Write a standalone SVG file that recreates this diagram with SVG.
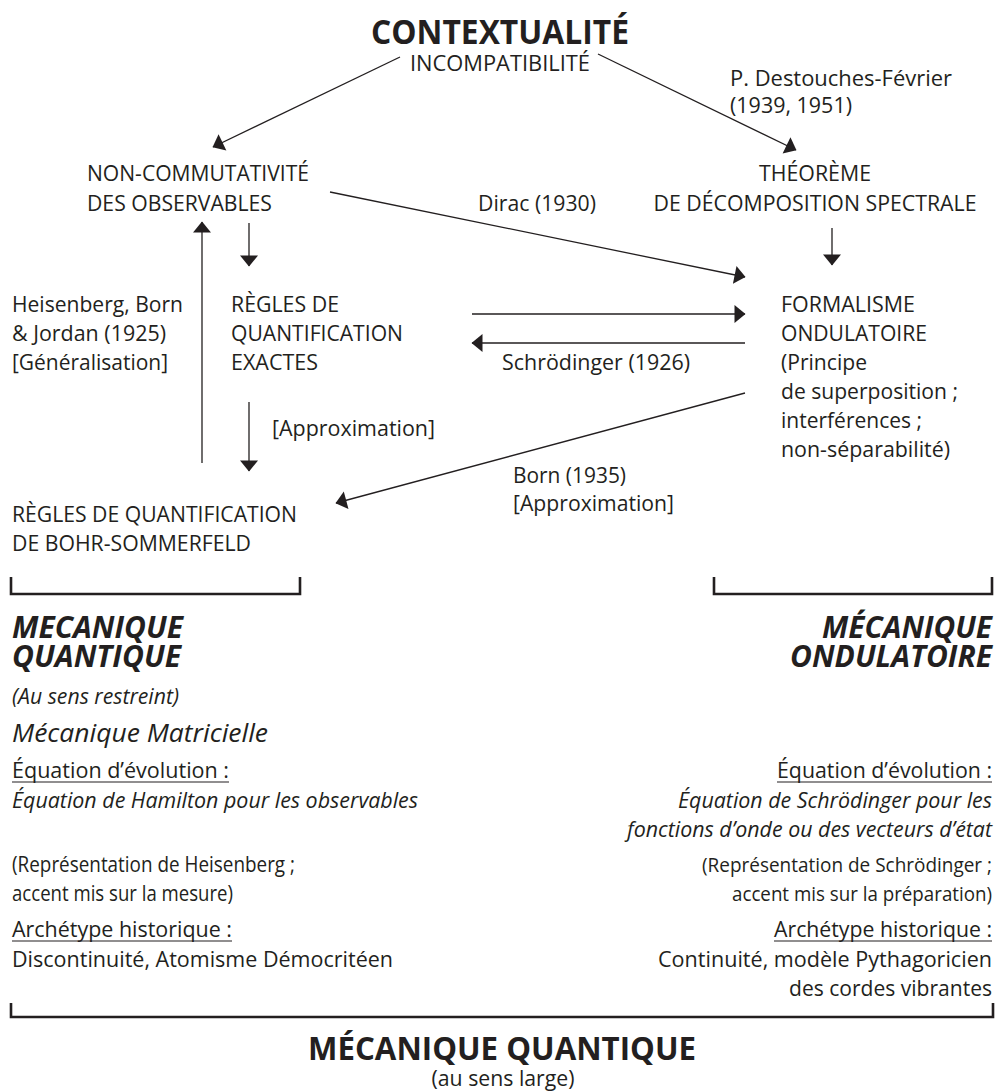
<svg xmlns="http://www.w3.org/2000/svg" width="997" height="1092" viewBox="0 0 997 1092">
<defs>
<marker id="ah" markerUnits="userSpaceOnUse" markerWidth="14" markerHeight="20" refX="10.5" refY="9" orient="auto" overflow="visible">
<path d="M0,0 L11,9 L0,18 z" fill="#231f20"/>
</marker>
<style>
text{font-family:"Open Sans","Liberation Sans",sans-serif;fill:#231f20;font-size:21.5px}
.title{font-weight:700;font-size:34px}
.big{font-weight:700;font-size:32px}
.bi{font-weight:700;font-style:italic;font-size:30px}
.i{font-style:italic}
.sm{font-style:italic;font-size:21px}
.mm{font-style:italic;font-size:26px}
.n{font-size:20.5px}
.e{text-anchor:end}
.m{text-anchor:middle}
.c{stroke:#231f20;stroke-width:1.3;fill:none;marker-end:url(#ah)}
.br{stroke:#231f20;stroke-width:2.6;fill:none}
.u{stroke:#231f20;stroke-width:1.2}
</style>
</defs>
<rect width="997" height="1092" fill="#ffffff"/>

<g id="connectors">
<line class="c" x1="400" y1="57" x2="213" y2="147"/>
<line class="c" x1="598" y1="54" x2="796" y2="150"/>
<line class="c" x1="330" y1="192" x2="745" y2="277"/>
<line class="c" x1="249" y1="223" x2="249" y2="266"/>
<line class="c" x1="832" y1="228" x2="832" y2="265"/>
<line class="c" x1="472" y1="314" x2="745" y2="314"/>
<line class="c" x1="745" y1="343" x2="472" y2="343"/>
<line class="c" x1="249" y1="402" x2="249" y2="471"/>
<line class="c" x1="202" y1="463" x2="202" y2="222"/>
<line class="c" x1="745" y1="393" x2="336" y2="503"/>
</g>

<g id="contextualite">
<text class="title m" x="500" y="44" textLength="258" lengthAdjust="spacingAndGlyphs">CONTEXTUALITÉ</text>
<text class="m" x="500" y="71" textLength="180" lengthAdjust="spacingAndGlyphs">INCOMPATIBILITÉ</text>
</g>
<g id="label-destouches">
<text x="730" y="86" textLength="222" lengthAdjust="spacingAndGlyphs">P. Destouches-Février</text>
<text x="730" y="113" textLength="122" lengthAdjust="spacingAndGlyphs">(1939, 1951)</text>
</g>
<g id="non-commutativite">
<text x="87" y="181" textLength="222" lengthAdjust="spacingAndGlyphs">NON-COMMUTATIVITÉ</text>
<text x="87" y="211" textLength="185" lengthAdjust="spacingAndGlyphs">DES OBSERVABLES</text>
</g>
<g id="theoreme">
<text class="m" x="815" y="181" textLength="112" lengthAdjust="spacingAndGlyphs">THÉORÈME</text>
<text class="m" x="815" y="211" textLength="323" lengthAdjust="spacingAndGlyphs">DE DÉCOMPOSITION SPECTRALE</text>
</g>
<g id="label-dirac">
<text x="478" y="211" textLength="118" lengthAdjust="spacingAndGlyphs">Dirac (1930)</text>
</g>
<g id="label-heisenberg">
<text x="12" y="312" textLength="171" lengthAdjust="spacingAndGlyphs">Heisenberg, Born</text>
<text x="12" y="341" textLength="154" lengthAdjust="spacingAndGlyphs">&amp; Jordan (1925)</text>
<text x="12" y="370" textLength="156" lengthAdjust="spacingAndGlyphs">[Généralisation]</text>
</g>
<g id="regles-exactes">
<text x="231" y="312" textLength="108" lengthAdjust="spacingAndGlyphs">RÈGLES DE</text>
<text x="231" y="341" textLength="172" lengthAdjust="spacingAndGlyphs">QUANTIFICATION</text>
<text x="231" y="370" textLength="87" lengthAdjust="spacingAndGlyphs">EXACTES</text>
</g>
<g id="label-schrodinger">
<text x="502" y="370" textLength="188" lengthAdjust="spacingAndGlyphs">Schrödinger (1926)</text>
</g>
<g id="formalisme">
<text x="781" y="312" textLength="134" lengthAdjust="spacingAndGlyphs">FORMALISME</text>
<text x="781" y="341" textLength="146" lengthAdjust="spacingAndGlyphs">ONDULATOIRE</text>
<text x="781" y="370" textLength="86" lengthAdjust="spacingAndGlyphs">(Principe</text>
<text x="781" y="399" textLength="177" lengthAdjust="spacingAndGlyphs">de superposition ;</text>
<text x="781" y="428" textLength="141" lengthAdjust="spacingAndGlyphs">interférences ;</text>
<text x="781" y="457" textLength="169" lengthAdjust="spacingAndGlyphs">non-séparabilité)</text>
</g>
<g id="label-approx-left">
<text x="272" y="436" textLength="163" lengthAdjust="spacingAndGlyphs">[Approximation]</text>
</g>
<g id="label-born">
<text x="513" y="483" textLength="113" lengthAdjust="spacingAndGlyphs">Born (1935)</text>
<text x="513" y="511" textLength="161" lengthAdjust="spacingAndGlyphs">[Approximation]</text>
</g>
<g id="regles-bohr">
<text x="12" y="522" textLength="285" lengthAdjust="spacingAndGlyphs">RÈGLES DE QUANTIFICATION</text>
<text x="12" y="551" textLength="239" lengthAdjust="spacingAndGlyphs">DE BOHR-SOMMERFELD</text>
</g>

<g id="mecanique-quantique-restreint">
<path class="br" d="M11,577 V594 H300 V577"/>
<text class="bi" x="12" y="638" textLength="171" lengthAdjust="spacingAndGlyphs">MECANIQUE</text>
<text class="bi" x="12" y="667" textLength="169" lengthAdjust="spacingAndGlyphs">QUANTIQUE</text>
<text class="sm" x="12" y="704" textLength="167" lengthAdjust="spacingAndGlyphs">(Au sens restreint)</text>
<text class="mm" x="12" y="742" textLength="256" lengthAdjust="spacingAndGlyphs">Mécanique Matricielle</text>
<text x="12" y="778" textLength="217" lengthAdjust="spacingAndGlyphs">Équation d’évolution :</text>
<line class="u" x1="12" y1="782" x2="229" y2="782"/>
<text class="i" x="12" y="808" textLength="406" lengthAdjust="spacingAndGlyphs">Équation de Hamilton pour les observables</text>
<text x="12" y="872" textLength="283" lengthAdjust="spacingAndGlyphs">(Représentation de Heisenberg ;</text>
<text x="12" y="901" textLength="221" lengthAdjust="spacingAndGlyphs">accent mis sur la mesure)</text>
<text x="12" y="937" textLength="220" lengthAdjust="spacingAndGlyphs">Archétype historique :</text>
<line class="u" x1="12" y1="941" x2="232" y2="941"/>
<text x="12" y="967" textLength="381" lengthAdjust="spacingAndGlyphs">Discontinuité, Atomisme Démocritéen</text>
</g>

<g id="mecanique-ondulatoire">
<path class="br" d="M714,577 V594 H992 V577"/>
<text class="bi e" x="992" y="638" textLength="170" lengthAdjust="spacingAndGlyphs">MÉCANIQUE</text>
<text class="bi e" x="992" y="667" textLength="202" lengthAdjust="spacingAndGlyphs">ONDULATOIRE</text>
<text class="e" x="992" y="778" textLength="215" lengthAdjust="spacingAndGlyphs">Équation d’évolution :</text>
<line class="u" x1="777" y1="782" x2="992" y2="782"/>
<text class="i e" x="992" y="808" textLength="314" lengthAdjust="spacingAndGlyphs">Équation de Schrödinger pour les</text>
<text class="i e" x="992" y="837" textLength="365" lengthAdjust="spacingAndGlyphs">fonctions d’onde ou des vecteurs d’état</text>
<text class="n e" x="992" y="872" textLength="290" lengthAdjust="spacingAndGlyphs">(Représentation de Schrödinger ;</text>
<text class="n e" x="992" y="901" textLength="260" lengthAdjust="spacingAndGlyphs">accent mis sur la préparation)</text>
<text class="e" x="992" y="937" textLength="218" lengthAdjust="spacingAndGlyphs">Archétype historique :</text>
<line class="u" x1="774" y1="941" x2="992" y2="941"/>
<text class="e" x="992" y="967" textLength="334" lengthAdjust="spacingAndGlyphs">Continuité, modèle Pythagoricien</text>
<text class="e" x="992" y="996" textLength="203" lengthAdjust="spacingAndGlyphs">des cordes vibrantes</text>
</g>

<g id="mecanique-quantique-large">
<path class="br" d="M11,1003 V1017 H993 V1003"/>
<text class="big m" x="502" y="1060" textLength="388" lengthAdjust="spacingAndGlyphs">MÉCANIQUE QUANTIQUE</text>
<text class="m" x="503" y="1086" textLength="143" lengthAdjust="spacingAndGlyphs">(au sens large)</text>
</g>
</svg>
